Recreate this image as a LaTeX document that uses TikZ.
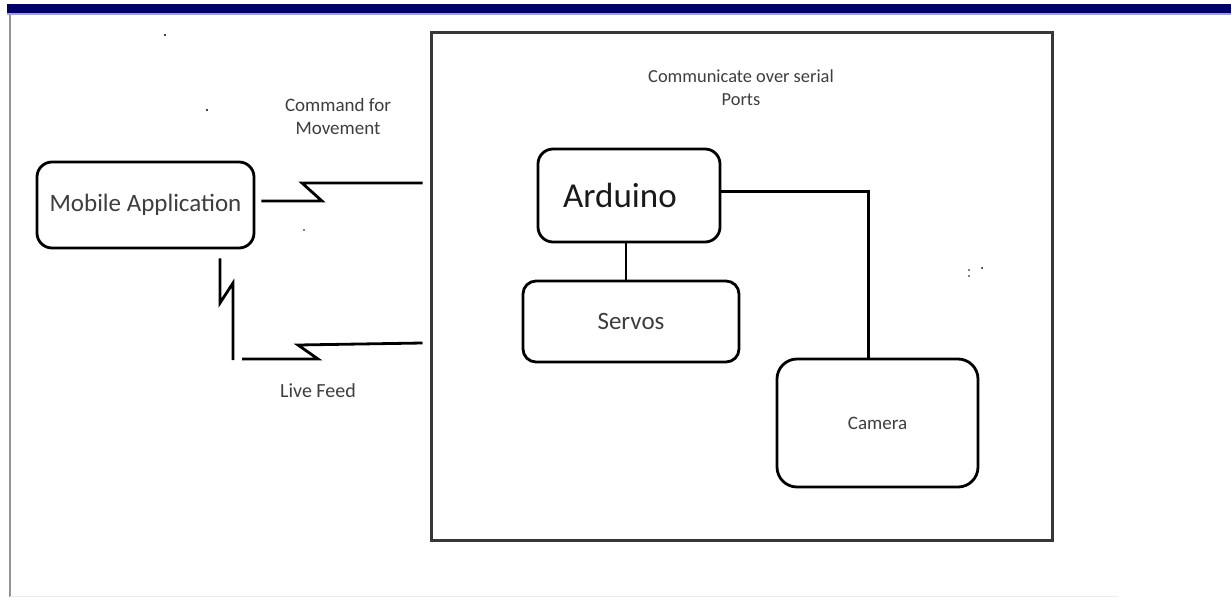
\documentclass[tikz,border=0pt]{standalone}
\usepackage{fontspec}
\setmainfont{Carlito}
\definecolor{navybar}{RGB}{0,0,104}
\definecolor{lavline}{RGB}{160,160,215}
\definecolor{txtgray}{RGB}{62,62,62}
\definecolor{boxgray}{RGB}{55,55,55}
\tikzset{
  rbox/.style={draw=black, line width=2.8pt, rounded corners=15pt, fill=white, inner sep=0pt},
  framebox/.style={draw=boxgray, line width=3pt, inner sep=0pt},
  conn/.style={draw=black, line width=2.8pt, line join=miter},
  lbl/.style={text=txtgray, inner sep=0pt, align=center},
  speck/.style={fill=black, inner sep=0pt, minimum size=2.4pt, circle}
}
\begin{document}
\begin{tikzpicture}[x=1pt, y=-1pt]
\useasboundingbox (0,0) rectangle (1231,597);
\fill[white] (0,0) rectangle (1231,597);
% title bar and page borders
\fill[navybar] (7,4) rectangle (1231,13);
\fill[lavline] (7,13) rectangle (1231,15);
\draw[color=gray!85, line width=2.2pt] (10,15) -- (10,597);
\draw[color=gray!15, line width=1pt] (10,596) -- (1118,596);

% system frame
\node[framebox, minimum width=621pt, minimum height=508pt] (sys) at (741.5,286) {};

% boxes
\node[rbox, minimum width=217pt, minimum height=86pt] (mob) at (145.5,205)
  {\fontsize{25}{30}\selectfont\color{txtgray}Mobile Application};
\node[rbox, minimum width=182pt, minimum height=93pt] (ard) at (629,195.5)
  {\fontsize{35}{42}\selectfont\color{black!90}\hspace*{-18pt}Arduino};
\node[rbox, rounded corners=13pt, minimum width=216pt, minimum height=81pt] (srv) at (631,321.5)
  {\fontsize{25}{30}\selectfont\color{txtgray}Servos};
\node[rbox, rounded corners=20pt, minimum width=201pt, minimum height=128pt] (cam) at (877.5,423)
  {\fontsize{19}{23}\selectfont\color{txtgray}Camera};

% labels
\node[lbl, font=\fontsize{19}{23}\selectfont] (cmd) at (338,116) {Command for\\Movement};
\node[lbl, font=\fontsize{20}{24}\selectfont] (live) at (318,391) {Live Feed};
\node[lbl, font=\fontsize{18.4}{23}\selectfont] (ser) at (741,88) {Communicate over serial\\Ports};

% free ends of wireless links
\coordinate (m1) at ([xshift=6pt,yshift=4pt]mob.east);
\coordinate (s1) at ([xshift=-7pt]sys.west |- 0,183);
\coordinate (m2) at (mob.south -| 220,0);
\coordinate (m2a) at ([yshift=-9pt]m2);
\coordinate (v2) at (233,360);
\coordinate (b2) at (242,359);
\coordinate (s2) at ([xshift=-7pt]sys.west |- 0,343);

% wireless links (lightning style)
\draw[conn] (m1) -- (322,201) -- (302,183) -- (s1);
\draw[conn] (m2a) -- (220,303) -- (233,283) -- (v2);
\draw[conn] (b2) -- (318,359) -- (298,345) -- (s2);

% wired links
\draw[conn] (ard.south -| 626,0) -- (srv.north -| 626,0);
\draw[conn] ([yshift=4pt]ard.east) -| ([xshift=-9pt]cam.north);

% stray specks
\node[speck] (d1) at (165,35) {};
\node[speck] (d2) at (207,110) {};
\node[speck, minimum size=1.8pt] (d3) at (304,230) {};
\node[speck, minimum size=1.8pt] (d4) at (969,270) {};
\node[speck, minimum size=1.8pt] (d5) at (969,276) {};
\node[speck, minimum size=2pt] (d6) at (982,268) {};
\end{tikzpicture}
\end{document}
